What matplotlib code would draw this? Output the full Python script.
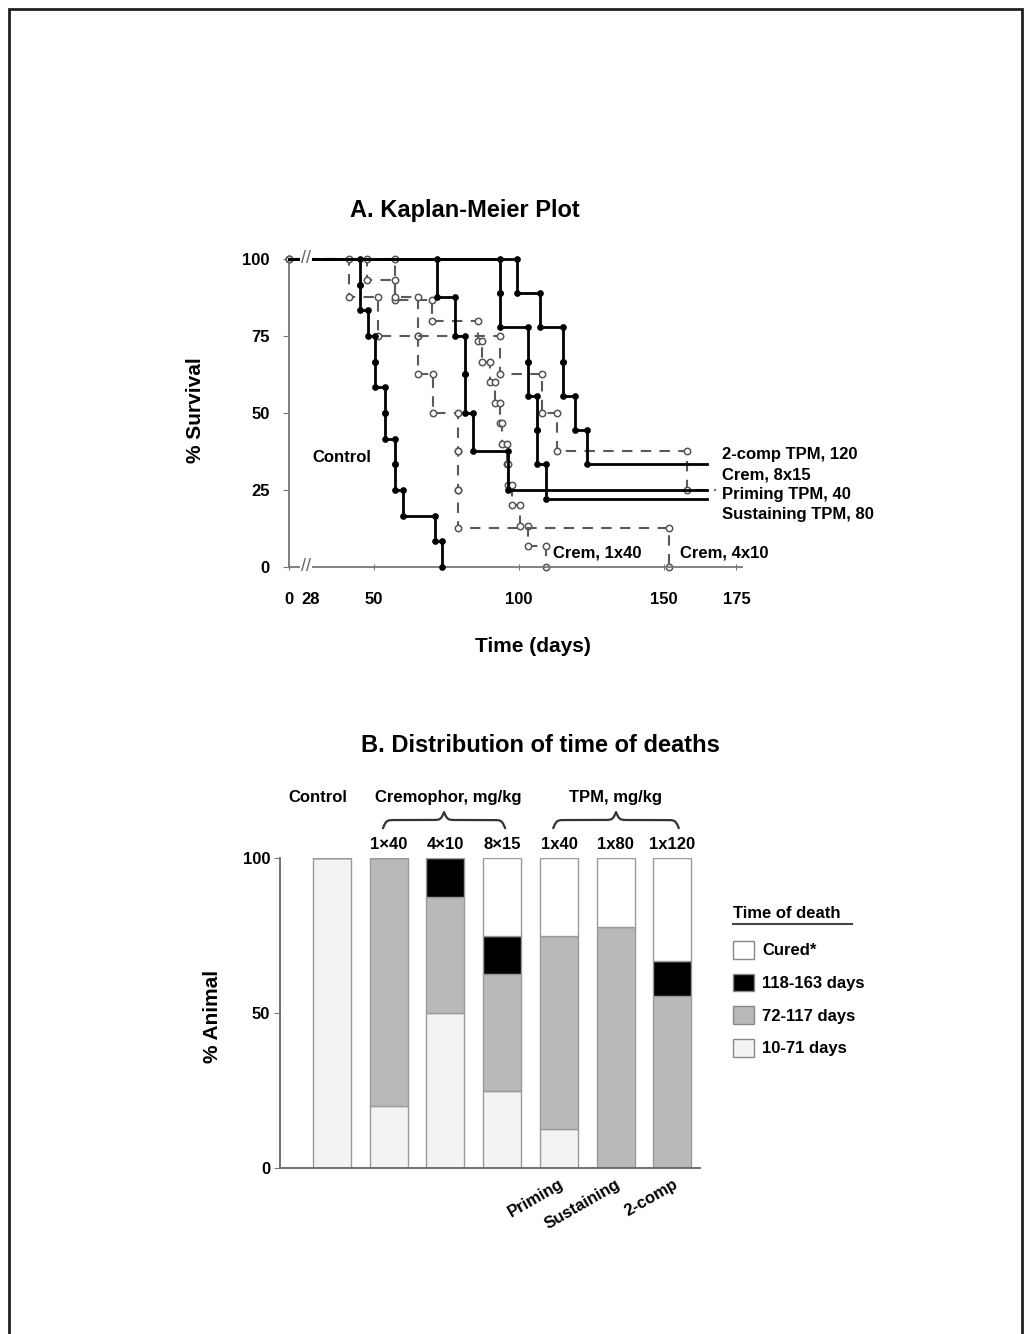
import numpy as np
import matplotlib.pyplot as plt
from matplotlib.patches import Patch, Rectangle
from matplotlib.lines import Line2D

plt.rcParams['font.family'] = ['Liberation Sans', 'DejaVu Sans']
plt.rcParams['font.weight'] = 'bold'
plt.rcParams['axes.labelweight'] = 'bold'

W, H = 1026, 1334

# A. Kaplan-Meier: event days and survival (%) after each event
control_t = [45.2, 45.2, 47.9, 50.3, 50.3, 53.8, 53.8, 57.2, 57.2, 60.0, 71.0, 73.4]
control_s = [91.7, 83.3, 75.0, 66.7, 58.3, 50.0, 41.7, 33.3, 25.0, 16.7, 8.3, 0.0]

priming_t = [71.7, 77.9, 81.4, 81.4, 84.1, 96.2]
priming_s = [87.5, 75.0, 62.5, 50.0, 37.5, 25.0]

sustain_t = [93.4, 93.4, 103.1, 103.1, 106.2, 106.2, 109.3]
sustain_s = [88.9, 77.8, 66.7, 55.6, 44.4, 33.3, 22.2]

twocomp_t = [99.3, 107.2, 115.2, 115.2, 119.3, 123.4]
twocomp_s = [88.9, 77.8, 66.7, 55.6, 44.4, 33.3]

crem140_t = [47.6, 57.2, 70.0, 85.9, 87.2, 90.0, 91.7, 93.4, 94.1, 95.9, 96.2, 97.6, 100.3, 103.1, 109.3]
crem140_s = [93.3, 86.7, 80.0, 73.3, 66.7, 60.0, 53.3, 46.7, 40.0, 33.3, 26.7, 20.0, 13.3, 6.7, 0.0]

crem410_t = [57.2, 65.2, 65.2, 70.3, 79.0, 79.0, 79.0, 151.7]
crem410_s = [87.5, 75.0, 62.5, 50.0, 37.5, 25.0, 12.5, 0.0]

crem815_t = [41.4, 51.4, 93.4, 108.0, 113.0, 158.0]
crem815_s = [87.5, 75.0, 62.5, 50.0, 37.5, 25.0]

followup_tpm = 165
followup_crem = 168

# B. distribution of time of deaths (% animals)
groups = ['Control', '1×40', '4×10', '8×15', '1x40', '1x80', '1x120']
d10_71 = [100, 20, 50, 25, 12.5, 0, 0]
d72_117 = [0, 80, 37.5, 37.5, 62.5, 77.8, 55.6]
d118_163 = [0, 0, 12.5, 12.5, 0, 0, 11.1]
cured = [0, 0, 0, 25, 25, 22.2, 33.3]
bottom_names = ['', '', '', '', 'Priming', 'Sustaining', '2-comp']


def px_box(l, t, r, b):
    return [l / W, 1 - b / H, (r - l) / W, (b - t) / H]


def brk(d):
    # broken axis: days 0..28 squeezed
    d = np.asarray(d, dtype=float)
    return np.where(d >= 28, d, 28 - (28 - d) * 7.3 / 28)


def steps(t, s, end=None):
    xs, ys, prev = [0], [100], 100
    for ti, si in zip(t, s):
        xs += [ti, ti]
        ys += [prev, si]
        prev = si
    if end is not None:
        xs.append(end)
        ys.append(prev)
    return brk(xs), np.array(ys)


fig = plt.figure(figsize=(W / 100, H / 100), dpi=100)
fig.add_artist(Rectangle((9 / W, -0.1), (1013 / W), 1.1 - 9 / H, transform=fig.transFigure,
                         fill=False, ec='#222222', lw=2))

# ---------------- A ----------------
ax1 = fig.add_axes(px_box(289, 259, 742, 567))

dashed = [(crem140_t, crem140_s, None), (crem410_t, crem410_s, None),
          (crem815_t, crem815_s, followup_crem)]
solid = [(control_t, control_s, None), (priming_t, priming_s, followup_tpm),
         (sustain_t, sustain_s, followup_tpm), (twocomp_t, twocomp_s, followup_tpm)]

for t, s, end in dashed:
    x, y = steps(t, s, end)
    n = len(x) - (1 if end is not None else 0)
    ax1.plot(x, y, color='#5a5a5a', lw=1.5, ls=(0, (5, 4)), marker='o', ms=4.6,
             mfc='white', mec='#555555', mew=1.1, markevery=list(range(0, n)),
             clip_on=False, zorder=2)

for t, s, end in solid:
    x, y = steps(t, s, end)
    n = len(x) - (1 if end is not None else 0)
    ax1.plot(x, y, color='black', lw=2.0, marker='o', ms=3.8, mfc='black', mec='black',
             markevery=list(range(1, n)), clip_on=False, zorder=3)

ax1.set_xlim(brk(0), 176.9)
ax1.set_ylim(0, 100)
ax1.set_xticks([brk(0), 28, 50, 100, 150, 175])
ax1.set_xticklabels(['0', '28', '50', '100', '150', '175'])
ax1.set_yticks([0, 25, 50, 75, 100])
ax1.tick_params(axis='x', direction='inout', length=4, pad=16, labelsize=12, color='#777777')
ax1.tick_params(axis='y', direction='out', length=4, pad=10, labelsize=12, color='#777777')
for sp in ['top', 'right']:
    ax1.spines[sp].set_visible(False)
for sp in ['left', 'bottom']:
    ax1.spines[sp].set_color('#777777')
    ax1.spines[sp].set_linewidth(1.3)
for yb in [0, 100]:
    ax1.text(26.5, yb, '//', ha='center', va='center', fontsize=13, color='#666666',
             fontweight='normal', clip_on=False, zorder=4,
             bbox=dict(fc='white', ec='none', pad=0.5))

ax1.set_ylabel('% Survival', fontsize=15)
ax1.yaxis.set_label_coords(-0.185, 0.51)
ax1.set_xlabel('Time (days)', fontsize=15)
ax1.xaxis.set_label_coords(0.539, -0.227)

ax1.text(28.6, 35.4, 'Control', fontsize=12, va='center', ha='left')
for label, yy in [('2-comp TPM, 120', 36.4), ('Crem, 8x15', 29.9),
                  ('Priming TPM, 40', 23.7), ('Sustaining TPM, 80', 16.9)]:
    ax1.text(170, yy, label, fontsize=12, va='center', ha='left', clip_on=False)
ax1.text(111.7, 4.5, 'Crem, 1x40', fontsize=12, va='center', ha='left')
ax1.text(155.5, 4.5, 'Crem, 4x10', fontsize=12, va='center', ha='left')

fig.text(465 / W, 1 - 211 / H, 'A. Kaplan-Meier Plot', ha='center', va='center', fontsize=17)

# ---------------- B ----------------
ax2 = fig.add_axes(px_box(280, 858, 700, 1168))
x = np.arange(len(groups))
layers = [d10_71, d72_117, d118_163, cured]
colors = ['#f3f3f3', '#b9b9b9', '#000000', '#ffffff']
names = ['10-71 days', '72-117 days', '118-163 days', 'Cured*']
base = np.zeros(len(groups))
for vals, c in zip(layers, colors):
    vals = np.array(vals, dtype=float)
    ax2.bar(x, vals, 0.67, bottom=base, color=c, edgecolor='#9a9a9a', lw=1, zorder=2)
    base += vals

ax2.set_xlim(-0.916, 6.485)
ax2.set_ylim(0, 100)
ax2.set_yticks([0, 50, 100])
ax2.tick_params(axis='y', direction='out', length=4, pad=3, labelsize=12, color='#777777')
ax2.set_xticks(x)
ax2.set_xticklabels(bottom_names, rotation=30, ha='right', rotation_mode='anchor', fontsize=12)
ax2.tick_params(axis='x', length=0, pad=6)
for sp in ['top', 'right']:
    ax2.spines[sp].set_visible(False)
for sp in ['left', 'bottom']:
    ax2.spines[sp].set_color('#666666')
    ax2.spines[sp].set_linewidth(1.3)
ax2.set_ylabel('% Animal', fontsize=15)
ax2.yaxis.set_label_coords(-0.138, 0.49)

for xi, g in zip(x, groups):
    if xi > 0:
        ax2.text(xi, 104.2, g, ha='center', va='center', fontsize=12, clip_on=False)
ax2.text(-0.25, 119.4, 'Control', ha='center', va='center', fontsize=12, clip_on=False)
ax2.text(2.04, 119.4, 'Cremophor, mg/kg', ha='center', va='center', fontsize=12, clip_on=False)
ax2.text(5.0, 119.4, 'TPM, mg/kg', ha='center', va='center', fontsize=12, clip_on=False)


def brace(ax, x0, x1, y_tip, y_peak, beta=35):
    xs = np.linspace(x0, x1, 301)
    half = xs[:151]
    yh = (1 / (1 + np.exp(-beta * (half - half[0]))) + 1 / (1 + np.exp(-beta * (half - half[-1]))))
    yy = np.concatenate([yh, yh[-2::-1]])
    yy = y_tip + (yy - 0.5) * (y_peak - y_tip)
    ax.plot(xs, yy, color='#333333', lw=1.6, clip_on=False)


brace(ax2, 0.9, 3.05, 109.7, 114.8)
brace(ax2, 3.9, 6.11, 109.7, 114.8)

fig.text(540 / W, 1 - 745 / H, 'B. Distribution of time of deaths', ha='center', va='center', fontsize=17)

handles = [Patch(fc=c, ec='#888888', lw=1) for c in colors[::-1]]
fig.legend(handles, names[::-1], loc='upper left', bbox_to_anchor=(733 / W, 1 - 941 / H),
           frameon=False, handlelength=1.25, handleheight=1.25, handletextpad=0.5,
           labelspacing=0.9, fontsize=12, borderpad=0, borderaxespad=0)
fig.text(733 / W, 1 - 914 / H, 'Time of death', ha='left', va='center', fontsize=12)
fig.add_artist(Line2D([733 / W, 852 / W], [1 - 924 / H, 1 - 924 / H], color='#444444', lw=1.5))

fig.savefig('out.png', dpi=100)
